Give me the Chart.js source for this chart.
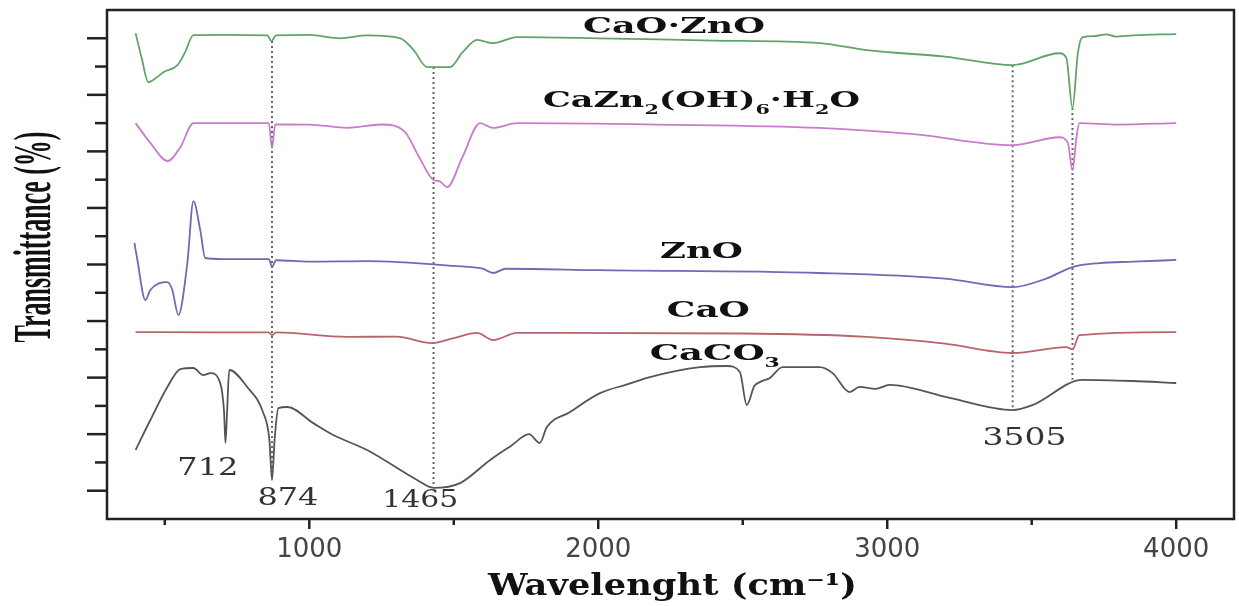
<!DOCTYPE html>
<html>
<head>
<meta charset="utf-8">
<script src="https://cdn.jsdelivr.net/npm/chart.js@4.4.1/dist/chart.umd.min.js"></script>
<style>
  body { margin: 0; background: #fff; }
</style>
</head>
<body>
<canvas id="ftir" width="1239" height="606"></canvas>
<script>
// wavenumber (cm-1) / transmittance (stacked, arbitrary units)
const caoZnoX = [399, 420, 443, 470, 495, 544, 570, 599, 700, 855, 869, 885, 1000, 1107, 1200, 1315, 1360, 1408, 1450, 1487, 1530, 1581, 1636, 1719, 2000, 2400, 2766, 2929, 3200, 3434, 3596, 3620, 3641, 3660, 3676, 3720, 3758, 3790, 3850, 4000];
const caoZnoY = [17.18, 16.3, 15.45, 15.6, 15.8, 16.05, 16.5, 17.11, 17.12, 17.1, 16.9, 17.1, 17.12, 17.0, 17.1, 17.0, 16.6, 15.98, 15.98, 15.98, 16.5, 16.94, 16.83, 17.04, 17.0, 16.92, 16.83, 16.58, 16.35, 16.05, 16.47, 16.3, 14.53, 16.5, 17.04, 17.08, 17.14, 17.06, 17.1, 17.15];

const caznX = [399, 450, 510, 554, 599, 700, 860, 871, 882, 1000, 1131, 1250, 1330, 1380, 1430, 1450, 1477, 1530, 1591, 1636, 1719, 2200, 2766, 3100, 3434, 3596, 3625, 3641, 3655, 3665, 3800, 4000];
const caznY = [14.0, 13.3, 12.66, 13.15, 14.0, 14.0, 14.0, 13.12, 13.95, 13.95, 13.83, 13.95, 13.7, 12.8, 11.99, 11.95, 11.74, 12.8, 14.0, 13.83, 14.0, 13.95, 13.83, 13.6, 13.22, 13.5, 13.3, 12.34, 13.5, 14.0, 13.95, 14.0];

const znoX = [395, 404, 433, 450, 509, 526, 547, 578, 599, 623, 640, 700, 860, 871, 885, 1000, 1200, 1500, 1600, 1636, 1680, 2000, 2766, 3200, 3434, 3550, 3641, 3734, 3850, 4000];
const znoY = [9.76, 9.23, 7.74, 8.1, 8.38, 8.1, 7.21, 9.05, 11.24, 10.2, 9.23, 9.19, 9.19, 8.91, 9.15, 9.1, 9.12, 8.95, 8.85, 8.7, 8.85, 8.8, 8.7, 8.5, 8.2, 8.5, 8.91, 9.05, 9.1, 9.16];

const caoX = [399, 668, 860, 871, 885, 1131, 1300, 1425, 1500, 1581, 1636, 1719, 2500, 2929, 3200, 3434, 3620, 3641, 3665, 4000];
const caoY = [6.61, 6.6, 6.6, 6.5, 6.6, 6.44, 6.45, 6.22, 6.4, 6.58, 6.33, 6.58, 6.56, 6.44, 6.2, 5.87, 6.08, 6.0, 6.5, 6.61];

const caco3X = [399, 450, 509, 554, 599, 633, 658, 692, 705, 710, 716, 723, 785, 841, 862, 871, 880, 893, 924, 1014, 1083, 1200, 1373, 1430, 1522, 1626, 1700, 1760, 1798, 1822, 1900, 2006, 2100, 2179, 2352, 2445, 2490, 2514, 2540, 2559, 2594, 2638, 2766, 2811, 2870, 2904, 2960, 3008, 3216, 3434, 3503, 3676, 3849, 4000];
const caco3Y = [2.44, 3.5, 4.67, 5.3, 5.34, 5.09, 5.16, 4.8, 3.8, 2.69, 3.9, 5.27, 4.67, 3.75, 2.8, 1.38, 2.8, 3.92, 3.96, 3.39, 2.97, 2.44, 1.38, 1.1, 1.27, 2.09, 2.6, 3.0, 2.69, 3.25, 3.77, 4.45, 4.76, 5.02, 5.37, 5.41, 5.2, 4.03, 4.7, 4.84, 4.99, 5.37, 5.37, 5.16, 4.49, 4.67, 4.6, 4.74, 4.28, 3.85, 4.03, 4.92, 4.88, 4.81];

// dotted guide lines
const guideX = [871, 1430, 3434, 3641];
const guideTop = [16.9, 15.98, 16.05, 14.53];
const guideBottom = [1.38, 1.1, 3.85, 4.92];

const xTicks = [500, 1000, 1500, 2000, 2500, 3000, 3500, 4000];
const yTicks = [1, 2, 3, 4, 5, 6, 7, 8, 9, 10, 11, 12, 13, 14, 15, 16, 17];

function pts(xs, ys) { return xs.map((x, i) => ({ x: x, y: ys[i] })); }

const curveStyle = { pointRadius: 0, borderWidth: 1.8, cubicInterpolationMode: 'monotone', fill: false };

const datasets = [
  Object.assign({ label: 'CaO·ZnO', data: pts(caoZnoX, caoZnoY), borderColor: '#62a468' }, curveStyle),
  Object.assign({ label: 'CaZn2(OH)6·H2O', data: pts(caznX, caznY), borderColor: '#c77ccc' }, curveStyle),
  Object.assign({ label: 'ZnO', data: pts(znoX, znoY), borderColor: '#6c6cb4' }, curveStyle),
  Object.assign({ label: 'CaO', data: pts(caoX, caoY), borderColor: '#b8646c' }, curveStyle),
  Object.assign({ label: 'CaCO3', data: pts(caco3X, caco3Y), borderColor: '#555555' }, curveStyle)
];
guideX.forEach((gx, i) => {
  datasets.push({
    label: 'guide' + i,
    data: [{ x: gx, y: guideTop[i] }, { x: gx, y: guideBottom[i] }],
    borderColor: '#666', borderWidth: 2, borderDash: [2, 3], pointRadius: 0, order: 10
  });
});

// text annotations: [segments, x value, baseline y value, target width, style]
const notes = [
  [[['CaO·ZnO']], 2262, 17.19, 182, 'name'],
  [[['CaZn'], ['2', 1], ['(OH)'], ['6', 1], ['·H'], ['2', 1], ['O']], 2357, 14.57, 317, 'name'],
  [[['ZnO']], 2357, 9.23, 83, 'name'],
  [[['CaO']], 2381, 7.14, 83, 'name'],
  [[['CaCO'], ['3', 1]], 2403, 5.62, 130, 'name'],
  [[['712']], 649, 1.56, 61, 'num'],
  [[['874']], 926, 0.5, 61, 'num'],
  [[['1465']], 1384, 0.42, 76, 'num'],
  [[['3505']], 3475, 2.62, 84, 'num']
];

function drawRich(ctx, segs, cx, by, width, style) {
  const size = style === 'name' ? 22 : 24;
  const fam = style === 'name' ? 'bold ' : '';
  const setFont = (sub) => { ctx.font = fam + (sub ? Math.round(size * 0.6) : size) + 'px "DejaVu Serif"'; };
  let total = 0;
  segs.forEach(s => { setFont(s[1]); total += ctx.measureText(s[0]).width; });
  const sx = width / total;
  ctx.save();
  ctx.translate(cx - width / 2, by);
  ctx.scale(sx, 1);
  ctx.fillStyle = style === 'name' ? '#111' : '#333';
  ctx.textBaseline = 'alphabetic';
  ctx.textAlign = 'left';
  let x = 0;
  segs.forEach(s => {
    setFont(s[1]);
    ctx.fillText(s[0], x, s[1] ? size * 0.3 : 0);
    x += ctx.measureText(s[0]).width;
  });
  ctx.restore();
}

function drawFitted(ctx, text, font, x, y, width, rot) {
  ctx.save();
  ctx.translate(x, y);
  if (rot) ctx.rotate(rot);
  ctx.font = font;
  const w = ctx.measureText(text).width;
  ctx.scale(width / w, 1);
  ctx.fillStyle = '#111';
  ctx.textAlign = 'center';
  ctx.textBaseline = 'alphabetic';
  ctx.fillText(text, 0, 0);
  ctx.restore();
}

const decor = {
  id: 'decor',
  afterDraw(chart) {
    const ctx = chart.ctx, a = chart.chartArea;
    const xs = chart.scales.x, ys = chart.scales.y;
    ctx.save();
    ctx.strokeStyle = '#222';
    ctx.lineWidth = 2.5;
    ctx.strokeRect(a.left, a.top, a.right - a.left, a.bottom - a.top);
    yTicks.forEach(v => {
      const py = ys.getPixelForValue(v);
      ctx.beginPath();
      ctx.moveTo(a.left - (v % 2 ? 20 : 12), py);
      ctx.lineTo(a.left, py);
      ctx.stroke();
    });
    xTicks.forEach(v => {
      const px = xs.getPixelForValue(v);
      ctx.beginPath();
      ctx.moveTo(px, a.bottom);
      ctx.lineTo(px, a.bottom + (v % 1000 ? 6 : 10));
      ctx.stroke();
    });
    ctx.restore();
    notes.forEach(n => drawRich(ctx, n[0], xs.getPixelForValue(n[1]), ys.getPixelForValue(n[2]), n[3], n[4]));
    // axis titles
    drawFitted(ctx, 'Transmittance (%)', 'bold 52px "Liberation Serif"', 50, 237, 211, -Math.PI / 2);
    drawFitted(ctx, 'Wavelenght (cm⁻¹)', 'bold 30px "DejaVu Serif"', (a.left + a.right) / 2 + 2, 595, 369, 0);
  }
};

new Chart(document.getElementById('ftir'), {
  type: 'line',
  data: { datasets: datasets },
  options: {
    responsive: false,
    devicePixelRatio: 1,
    animation: false,
    layout: { padding: { top: 10, right: 5, left: 0, bottom: 0 } },
    plugins: { legend: { display: false }, tooltip: { enabled: false } },
    scales: {
      x: {
        type: 'linear', min: 300, max: 4200,
        afterBuildTicks: s => { s.ticks = xTicks.map(v => ({ value: v })); },
        afterFit: s => { s.height = 87; },
        grid: { display: false, drawTicks: false },
        border: { display: false },
        ticks: {
          autoSkip: false, maxRotation: 0, padding: 16, color: '#444',
          font: { family: 'DejaVu Sans', size: 26 },
          callback: v => (v % 1000 === 0 ? String(v) : '')
        }
      },
      y: {
        min: 0, max: 18,
        afterFit: s => { s.width = 107; },
        grid: { display: false, drawTicks: false },
        border: { display: false },
        ticks: { display: false }
      }
    }
  },
  plugins: [decor]
});
</script>
</body>
</html>
